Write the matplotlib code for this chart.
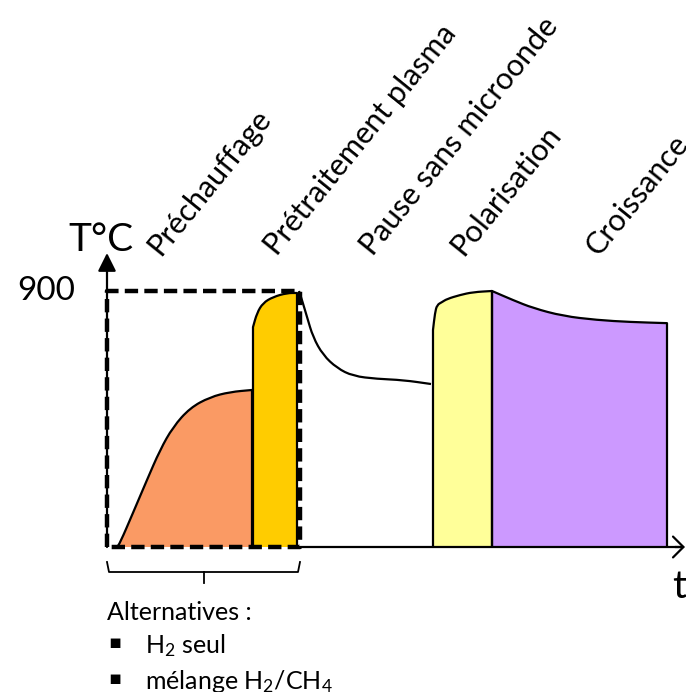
import numpy as np
import matplotlib
matplotlib.use("Agg")
import matplotlib.pyplot as plt
from matplotlib.path import Path
from matplotlib.patches import PathPatch

plt.rcParams["font.family"] = ["Lato", "DejaVu Sans"]
plt.rcParams["mathtext.default"] = "regular"

# temperature profile (t in arbitrary units, T in degC), top of each stage
t_pre = [1.0, 1.3, 2.6, 4.0, 5.3, 6.6, 8.3, 10.3, 12.3, 14.5]
T_pre = [0, 14, 120, 236, 341, 422, 489, 527, 545, 552]

t_plasma = [14.6, 15.0, 15.6, 16.6, 18.0, 19.0]
T_plasma = [773, 823, 858, 879, 893, 893]

t_pause = [19.2, 19.5, 20.0, 20.6, 21.6, 23.0, 24.6, 27.0, 29.6, 32.4]
T_pause = [900, 868, 809, 738, 675, 629, 601, 591, 587, 573]

t_pol = [32.6, 32.8, 33.0, 33.5, 34.0, 35.3, 36.6, 38.5]
T_pol = [763, 823, 851, 861, 872, 886, 896, 900]

t_cro = [38.5, 40.6, 42.6, 45.6, 49.0, 52.3, 56.0]
T_cro = [900, 868, 840, 812, 798, 791, 787]

T_MAX = 900
t_box_end = 19.3
t_axis_end = 57.8

stage_labels = ["Préchauffage", "Prétraitement plasma", "Pause sans microonde",
                "Polarisation", "Croissance"]
stage_label_t = [5.3, 17.0, 26.6, 35.6, 49.1]

alt_title = "Alternatives :"
alt_items = ["H$_2$ seul", "mélange H$_2$/CH$_4$"]

# figure: 686 x 692 px, 1 t unit = 10 px, 900 degC = 256 px
T_PER_PX = T_MAX / 256
fig = plt.figure(figsize=(6.86, 6.92), dpi=100)
ax = fig.add_axes([0, 0, 1, 1])
ax.set_xlim(-10.7, 57.9)
ax.set_ylim(-(692 - 547) * T_PER_PX, 547 * T_PER_PX)
ax.set_axis_off()

colors = {"pre": "#FA9A64", "plasma": "#FFCC00", "pol": "#FFFF99", "cro": "#CC99FF"}
lw = 1.6


def curve_verts(t, T):
    # quadratic bezier through segment midpoints -> smooth drawing of the read points
    pts = list(zip(t, T))
    verts = [pts[0]]
    codes = [Path.LINETO]
    if len(pts) > 2:
        verts.append(((pts[0][0] + pts[1][0]) / 2, (pts[0][1] + pts[1][1]) / 2))
        codes.append(Path.LINETO)
        for i in range(1, len(pts) - 1):
            nxt = ((pts[i][0] + pts[i + 1][0]) / 2, (pts[i][1] + pts[i + 1][1]) / 2)
            verts += [pts[i], nxt]
            codes += [Path.CURVE3, Path.CURVE3]
    verts.append(pts[-1])
    codes.append(Path.LINETO)
    return verts, codes


def stage(t, T, color):
    v, c = curve_verts(t, T)
    verts = [(t[0], 0)] + v + [(t[-1], 0)]
    codes = [Path.MOVETO] + c + [Path.LINETO]
    ax.add_patch(PathPatch(Path(verts + [(t[0], 0)], codes + [Path.CLOSEPOLY]),
                           facecolor=color, lw=0, zorder=1))
    ax.add_patch(PathPatch(Path(verts, codes), fill=False, edgecolor="black",
                           lw=lw, zorder=2, joinstyle="round"))


stage(t_pre, T_pre, colors["pre"])
stage(t_plasma, T_plasma, colors["plasma"])
stage(t_pol, T_pol, colors["pol"])
stage(t_cro, T_cro, colors["cro"])

v, c = curve_verts(t_pause, T_pause)
c[0] = Path.MOVETO
ax.add_patch(PathPatch(Path(v, c), fill=False, edgecolor="black", lw=lw, zorder=2))

# axes
ax.plot([t_box_end, t_axis_end - 0.3], [0, 0], color="black", lw=lw, zorder=3)
ax.annotate("", xy=(t_axis_end, 0), xytext=(t_axis_end - 1, 0),
            arrowprops=dict(arrowstyle="->, head_length=0.3, head_width=0.3",
                            lw=lw, color="black", mutation_scale=25,
                            shrinkA=0, shrinkB=0))
ax.annotate("", xy=(0, (547 - 253) * T_PER_PX), xytext=(0, 0),
            arrowprops=dict(arrowstyle="-|>, head_length=0.5, head_width=0.25",
                            lw=lw, color="black", mutation_scale=22,
                            shrinkA=0, shrinkB=0), zorder=3)

# dashed box
ax.plot([0, 0, t_box_end, t_box_end, 0], [0, T_MAX, T_MAX, 0, 0],
        color="black", lw=3.2, ls=(0, (3.0, 1.4)), zorder=4)

ax.text(-0.6, (547 - 251) * T_PER_PX, "T°C", ha="center", va="baseline", fontsize=28)
ax.text(-3.2, T_MAX, "900", ha="right", va="center", fontsize=24)
ax.text(57.2, -(598 - 547) * T_PER_PX, "t", ha="center", va="baseline", fontsize=28)

label_T = (547 - 257) * T_PER_PX
for lab, tl in zip(stage_labels, stage_label_t):
    ax.text(tl, label_T, lab, rotation=51, rotation_mode="anchor",
            ha="left", va="baseline", fontsize=22)

# bracket under the box
yb0 = -(562 - 547) * T_PER_PX
yb1 = -(572 - 547) * T_PER_PX
yb2 = -(583 - 547) * T_PER_PX
ax.plot([0, 0.2, t_box_end - 0.2, t_box_end], [yb0, yb1, yb1, yb0], color="black", lw=1.3)
ax.plot([t_box_end / 2, t_box_end / 2], [yb1, yb2], color="black", lw=1.3)

ax.text(0, -(620 - 547) * T_PER_PX, alt_title, ha="left", va="baseline", fontsize=18)
item_T = [-(653 - 547) * T_PER_PX, -(689 - 547) * T_PER_PX]
for it, yT in zip(alt_items, item_T):
    ax.text(0.1, yT + 10 * T_PER_PX, "▪", ha="left", va="center", fontsize=14,
            family=["DejaVu Sans"])
    ax.text(3.8, yT, it, ha="left", va="baseline", fontsize=18)

fig.savefig("out.png", dpi=100)
